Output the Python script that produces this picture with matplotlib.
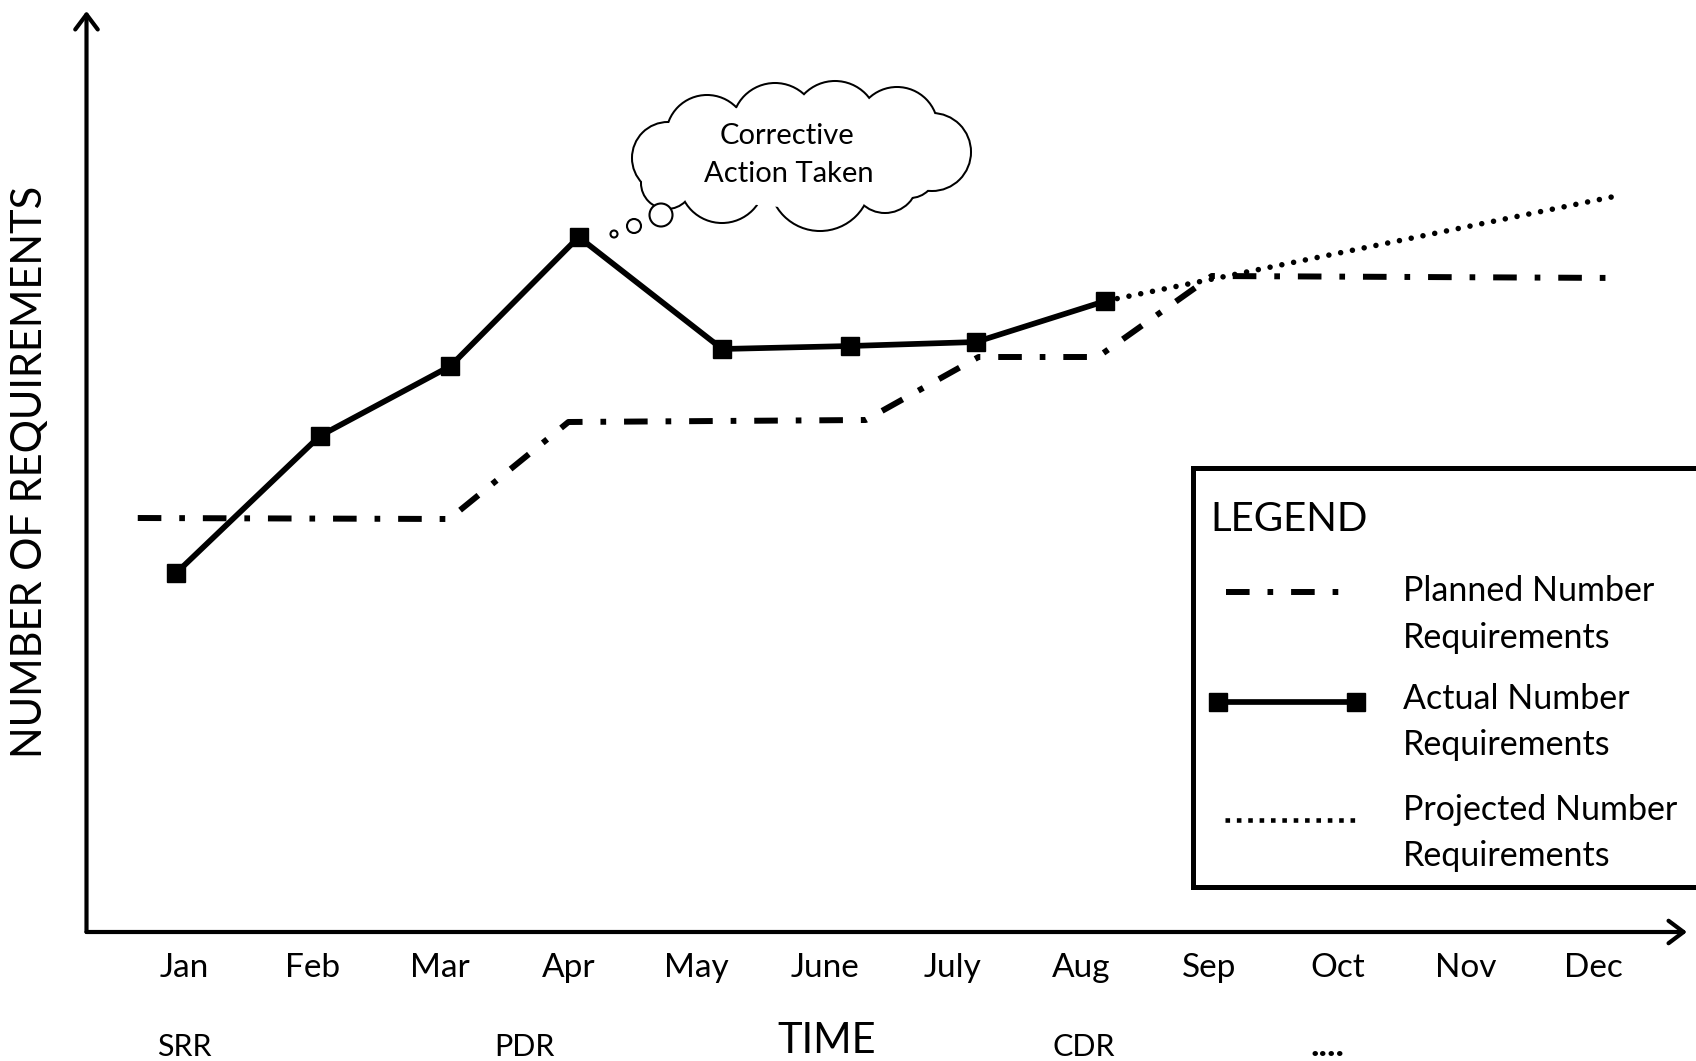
import matplotlib.pyplot as plt
from matplotlib.patches import Circle, Ellipse, Rectangle

plt.rcParams['font.family'] = ['Lato', 'DejaVu Sans']

# months on the time axis, and the review milestones under them
months = ['Jan', 'Feb', 'Mar', 'Apr', 'May', 'June', 'July', 'Aug', 'Sep', 'Oct', 'Nov', 'Dec']
milestones = ['SRR', 'PDR', 'CDR', '....']
milestone_x = [0.0, 2.66, 7.02, 8.92]

# number of requirements (arbitrary units), x in months from Jan
planned_x = [-0.36, 2.07, 3.0, 5.32, 6.2, 7.13, 8.02, 11.22]
planned_y = [103.5, 103.25, 127.5, 128.0, 143.75, 143.75, 164.0, 163.5]

actual_x = [-0.06, 1.06, 2.08, 3.08, 4.2, 5.2, 6.18, 7.19]
actual_y = [89.75, 124.0, 141.5, 173.75, 145.75, 146.5, 147.5, 157.75]

projected_x = [7.19, 11.14]
projected_y = [157.75, 183.75]

W, H = 1696, 1061
fig = plt.figure(figsize=(W / 100, H / 100), dpi=100)

# plot area in pixels (axes origin at the arrow corner)
left_px, right_px, top_px, axis_px = 86.5, 1687, 11, 932
jan_px, month_px = 183.9, 128.17
ax = fig.add_axes([left_px / W, (H - axis_px) / H, (right_px - left_px) / W, (axis_px - top_px) / H])
ax.set_xlim((left_px - jan_px) / month_px, (right_px - jan_px) / month_px)
ax.set_ylim(0, (axis_px - top_px) / 4)
for s in ax.spines.values():
    s.set_visible(False)
ax.set_yticks([])
ax.set_xticks(range(len(months)), months, fontsize=24)
ax.tick_params(axis='x', length=0, pad=15)

# axes with open arrow heads
arrow = dict(arrowstyle='->, head_length=0.36, head_width=0.27', lw=3, color='black',
             shrinkA=0, shrinkB=0, mutation_scale=30)
ax.annotate('', xy=(0, 1), xytext=(0, 0), xycoords='axes fraction', arrowprops=arrow, annotation_clip=False)
ax.annotate('', xy=(1, 0), xytext=(0, 0), xycoords='axes fraction', arrowprops=arrow, annotation_clip=False)

planned_style = dict(color='black', lw=4.3, linestyle=(0, (3.95, 3.0, 0.95, 3.0)), dash_capstyle='butt')
actual_style = dict(color='black', lw=4.1, marker='s', markersize=12.5)
projected_style = dict(color='black', lw=4.0, linestyle=(0, (0.001, 2.16)), dash_capstyle='round')

ax.plot(planned_x, planned_y, **planned_style)
ax.plot(projected_x, projected_y, **projected_style)
ax.plot(actual_x, actual_y, **actual_style)

ax.set_xlabel('TIME', fontsize=30, va='baseline')
ax.xaxis.set_label_coords(0.4627, -0.1314)
ax.set_ylabel('NUMBER OF REQUIREMENTS', fontsize=30, va='center', ha='center')
ax.yaxis.set_label_coords(-0.0353, 0.5)

for name, mx in zip(milestones, milestone_x):
    dots = name == '....'
    ax.annotate(name, xy=(mx, 5), xycoords=('data', 'figure pixels'), ha='center', va='baseline',
                fontsize=26 if dots else 22, fontweight='bold' if dots else 'normal',
                annotation_clip=False)

# overlay in pixel units for the cloud and the legend box
ov = fig.add_axes([0, 0, 1, 1])
ov.set_xlim(0, W)
ov.set_ylim(H, 0)
ov.axis('off')

bumps = [(668, 158, 35), (667, 183, 25), (707, 136, 40), (775, 126, 42), (835, 124, 42),
         (897, 128, 40), (932, 152, 38), (910, 172, 25), (885, 180, 32), (820, 180, 50), (722, 180, 42)]
for cx, cy, r in bumps:
    ov.add_patch(Circle((cx, cy), r, facecolor='white', edgecolor='black', lw=2.9, zorder=2))
for cx, cy, r in bumps:
    ov.add_patch(Circle((cx, cy), r, facecolor='white', edgecolor='none', zorder=3))
ov.add_patch(Ellipse((800, 155), 280, 105, facecolor='white', edgecolor='none', zorder=3))
for cx, cy, r in [(614, 234, 3.5), (634, 226, 7.0), (661, 215, 11.5)]:
    ov.add_patch(Circle((cx, cy), r, facecolor='white', edgecolor='black', lw=1.5, zorder=3))
ov.text(787, 136, 'Corrective', ha='center', va='center', fontsize=21, zorder=4)
ov.text(789, 174, 'Action Taken', ha='center', va='center', fontsize=21, zorder=4)

# legend
ov.add_patch(Rectangle((1193, 468), 600, 419, facecolor='white', edgecolor='black', lw=3.6, zorder=2))
ov.text(1210, 531, 'LEGEND', fontsize=29, va='baseline', zorder=4)
ov.plot([1226, 1340], [592, 592], zorder=4, **planned_style)
ov.plot([1218, 1356], [702, 702], zorder=4, **actual_style)
ov.plot([1225, 1355], [820, 820], color='black', lw=3.3, linestyle=(0, (1.0, 1.48)),
        dash_capstyle='butt', zorder=4)
rows = [('Planned Number', 601, 648), ('Actual Number', 709, 755), ('Projected Number', 820, 866)]
for label, y1, y2 in rows:
    ov.text(1403, y1, label, fontsize=24.5, va='baseline', zorder=4)
    ov.text(1403, y2, 'Requirements', fontsize=24.5, va='baseline', zorder=4)

fig.savefig('out.png', dpi=100)
